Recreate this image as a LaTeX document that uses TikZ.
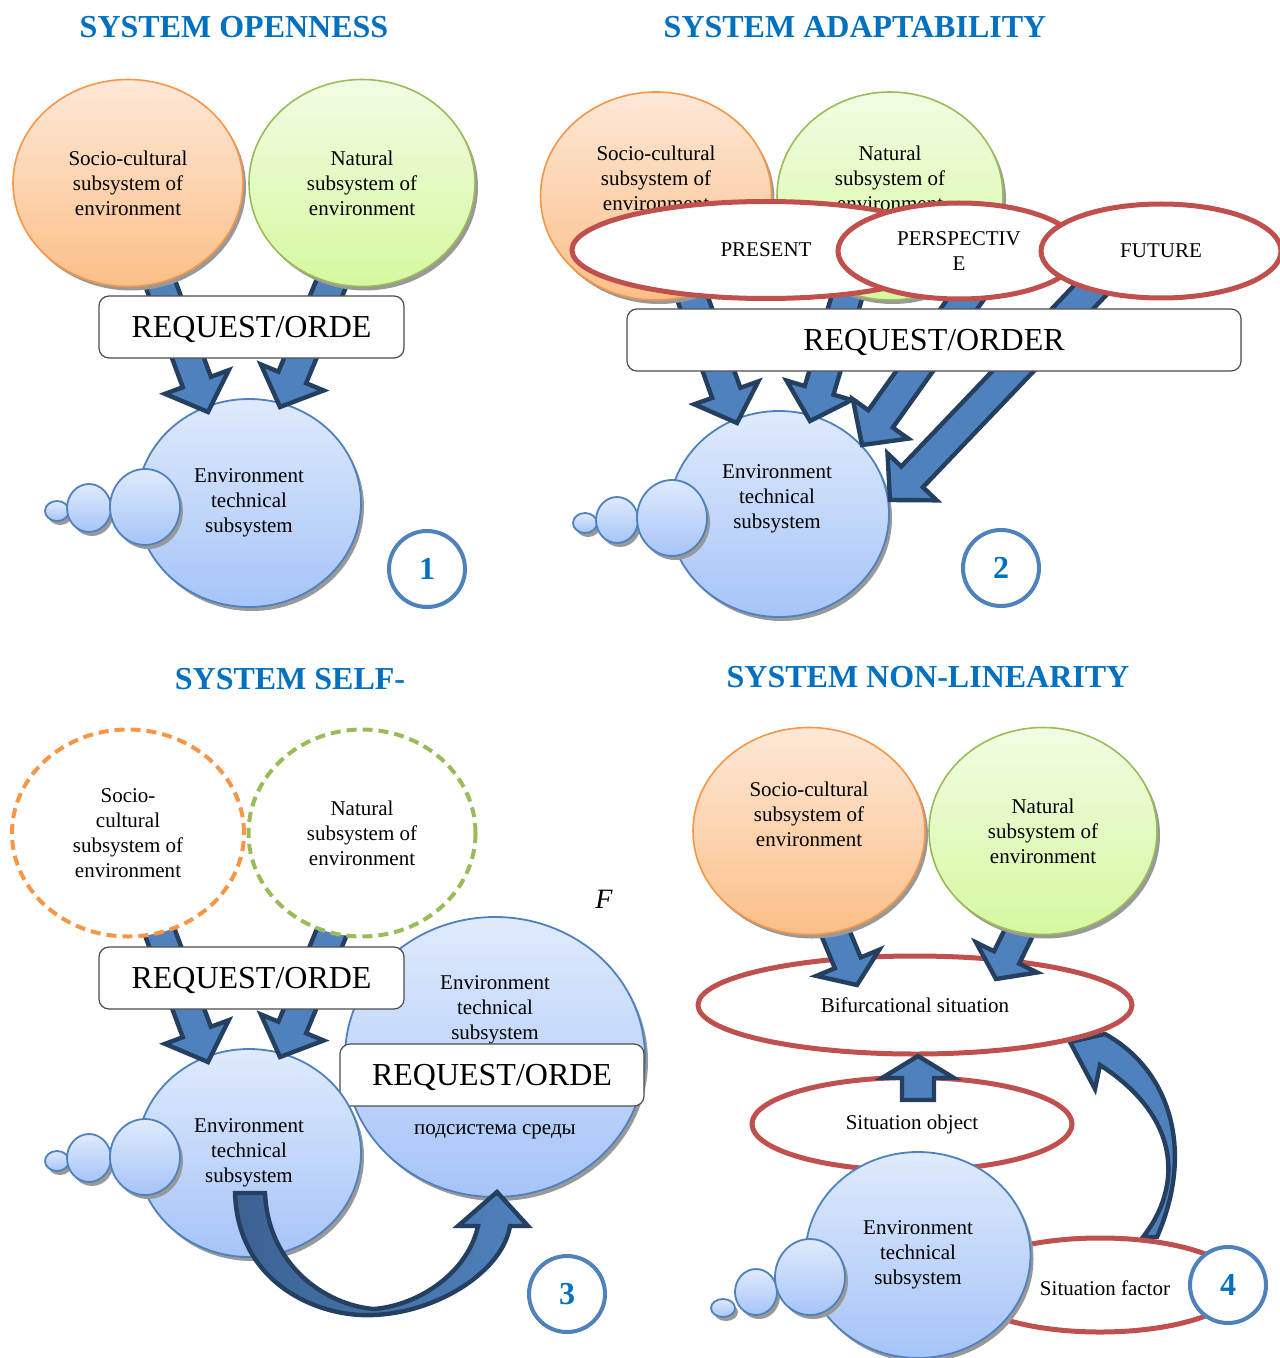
\documentclass[tikz,border=0pt]{standalone}
\usepackage{fontspec}
\setmainfont{Liberation Serif}
\usetikzlibrary{calc}
\usetikzlibrary{shapes}
\usetikzlibrary{shadows}

\definecolor{titleblue}{HTML}{0070C0}
\definecolor{sociodraw}{HTML}{F79646}
\definecolor{sociotop}{HTML}{FDE8D7}
\definecolor{sociobot}{HTML}{FBBF88}
\definecolor{natdraw}{HTML}{9BBB59}
\definecolor{nattop}{HTML}{F1FCE3}
\definecolor{natbot}{HTML}{D6F8A0}
\definecolor{envdraw}{HTML}{4F81BD}
\definecolor{envtop}{HTML}{DFEAFC}
\definecolor{envbot}{HTML}{A6C4F8}
\definecolor{sitred}{HTML}{C0504D}
\definecolor{arrowblue}{HTML}{4F81BD}
\definecolor{arrowshade}{HTML}{3C6292}
\definecolor{arrowdark}{HTML}{243F60}

\tikzset{
  every node/.style={font=\fontsize{10.5}{12.5}\selectfont, align=center},
  shade/.style={drop shadow={shadow xshift=1.5pt, shadow yshift=-2pt, fill=black!40, opacity=1}},
  socio/.style={ellipse, inner sep=0pt, draw=sociodraw, line width=0.8pt,
    top color=sociotop, bottom color=sociobot, shade},
  natural/.style={ellipse, inner sep=0pt, draw=natdraw, line width=0.8pt,
    top color=nattop, bottom color=natbot, shade},
  envsys/.style={ellipse, inner sep=0pt, draw=envdraw, line width=0.9pt,
    top color=envtop, bottom color=envbot, shade},
  bubble/.style={envsys},
  dashsocio/.style={ellipse, inner sep=0pt, draw=sociodraw, line width=2pt,
    dash pattern=on 5pt off 3pt, fill=white},
  dashnat/.style={ellipse, inner sep=0pt, draw=natdraw, line width=2pt,
    dash pattern=on 5pt off 3pt, fill=white},
  situation/.style={ellipse, inner sep=0pt, draw=sitred, line width=2.5pt, fill=white},
  request/.style={draw=black!70, line width=0.6pt, rounded corners=5pt, fill=white,
    inner sep=0pt, minimum height=31pt, text height=10.6pt, text depth=0pt,
    font=\fontsize{16}{18}\selectfont},
  numcirc/.style={circle, draw=envdraw, line width=2pt, fill=white, minimum size=38pt,
    inner sep=0pt, text=titleblue, font=\fontsize{16}{18}\selectfont\bfseries},
  title/.style={text=titleblue, font=\fontsize{16}{18}\selectfont\bfseries},
  blockarrow/.style={fill=arrowblue, draw=arrowdark, line width=2.2pt, line join=miter},
  curvearrow/.style={draw=arrowdark, line width=2.2pt, line join=miter},
}

% block arrow from tail #1 to tip #2
\newcommand{\bashaft}{7.5pt}
\newcommand{\bahead}{17pt}
\newcommand{\balen}{16pt}
\newcommand{\blockarrow}[2]{%
  \coordinate (bah) at ($(#2)!\balen!(#1)$);
  \draw[blockarrow] ($(#1)!\bashaft!90:(#2)$) -- ($(bah)!\bashaft!90:(#2)$)
    -- ($(bah)!\bahead!90:(#2)$) -- (#2) -- ($(bah)!\bahead!-90:(#2)$)
    -- ($(bah)!\bashaft!-90:(#2)$) -- ($(#1)!\bashaft!-90:(#2)$) -- cycle;}

\begin{document}
\begin{tikzpicture}[x=0.5pt,y=-0.5pt]
  \fill[white] (0,0) rectangle (1279,1358);
  \useasboundingbox (0,0) rectangle (1279,1358);

  % 1: openness
  \node[title] (t1) at (234,27) {SYSTEM OPENNESS};
  \node[envsys, minimum width=112pt, minimum height=104pt] (env1) at (249,503) {Environment\\technical\\subsystem};
  \node[bubble, minimum width=12pt, minimum height=10pt] (b1c) at (57,511) {};
  \node[bubble, minimum width=22pt, minimum height=24pt] (b1b) at (89,508) {};
  \node[bubble, minimum width=35pt, minimum height=38pt] (b1a) at (145,507) {};
  \coordinate (a1t) at (156,272); \coordinate (a1h) at (208,412);
  \coordinate (a2t) at (336,272); \coordinate (a2h) at (280,407);
  \blockarrow{a1t}{a1h}
  \blockarrow{a2t}{a2h}
  \node[socio, minimum width=115pt, minimum height=103.5pt] (so1) at (128,183) {Socio-cultural\\subsystem of\\environment};
  \node[natural, minimum width=113pt, minimum height=103.5pt] (na1) at (362,183) {Natural\\subsystem of\\environment};
  \node[request, minimum width=152.5pt] (rq1) at (251.5,327) {REQUEST/ORDE};
  \node[numcirc] (n1) at (427,569) {1};

  % 2: adaptability
  \node[title] (t2) at (855,27) {SYSTEM ADAPTABILITY};
  \node[envsys, minimum width=110pt, minimum height=103pt] (env2) at (779,514) {};
  \node (env2t) at (777,499) {Environment\\technical\\subsystem};
  \node[bubble, minimum width=12pt, minimum height=10pt] (b2c) at (585,523) {};
  \node[bubble, minimum width=21pt, minimum height=23pt] (b2b) at (617,520) {};
  \node[bubble, minimum width=35pt, minimum height=38pt] (b2a) at (672,518) {};
  \coordinate (a3t) at (686,280); \coordinate (a3h) at (737,423);
  \coordinate (a4t) at (852,280); \coordinate (a4h) at (810,421);
  \coordinate (a5t) at (978,282); \coordinate (a5h) at (862,445);
  \coordinate (a6t) at (1100,280); \coordinate (a6h) at (890,500);
  \blockarrow{a3t}{a3h}
  \blockarrow{a4t}{a4h}
  \blockarrow{a5t}{a5h}
  \blockarrow{a6t}{a6h}
  \node[socio, minimum width=115.5pt, minimum height=104pt] (so2) at (656,196) {};
  \node (so2t) at (656,178) {Socio-cultural\\subsystem of\\environment};
  \node[natural, minimum width=113pt, minimum height=104pt] (na2) at (890,196) {};
  \node (na2t) at (890,178) {Natural\\subsystem of\\environment};
  \node[situation, minimum width=194pt, minimum height=48.5pt] (pr2) at (766,250) {PRESENT};
  \node[situation, minimum width=121pt, minimum height=48pt] (pe2) at (959,251) {PERSPECTIV\\E};
  \node[situation, minimum width=120pt, minimum height=47pt] (fu2) at (1161,251) {FUTURE};
  \node[request, minimum width=307pt] (rq2) at (934,340) {REQUEST/ORDER};
  \node[numcirc] (n2) at (1001,568) {2};

  % 3: self-organisation
  \node[title] (t3) at (290,679) {SYSTEM SELF-};
  \node[envsys, minimum width=150pt, minimum height=140pt] (env3b) at (495,1057) {};
  \node (env3bt) at (495,1010) {Environment\\technical\\subsystem};
  \node (env3bru) at (495,1132) {подсистема среды};
  \node[request, minimum width=152pt] (rq3b) at (492,1075) {REQUEST/ORDE};
  \node[envsys, minimum width=112pt, minimum height=104pt] (env3) at (249,1153) {Environment\\technical\\subsystem};
  \node[bubble, minimum width=12pt, minimum height=10pt] (b3c) at (57,1161) {};
  \node[bubble, minimum width=22pt, minimum height=24pt] (b3b) at (89,1158) {};
  \node[bubble, minimum width=35pt, minimum height=38pt] (b3a) at (145,1157) {};
  \coordinate (a7t) at (156,922); \coordinate (a7h) at (208,1062);
  \coordinate (a8t) at (336,922); \coordinate (a8h) at (280,1057);
  \blockarrow{a7t}{a7h}
  \blockarrow{a8t}{a8h}
  \node[dashsocio, minimum width=116pt, minimum height=103.5pt] (so3) at (128,833) {Socio-\\cultural\\subsystem of\\environment};
  \node[dashnat, minimum width=113.5pt, minimum height=103.5pt] (na3) at (362,833) {Natural\\subsystem of\\environment};
  \node[request, minimum width=152.5pt] (rq3) at (251.5,978) {REQUEST/ORDE};
  \coordinate (c3t) at (250,1193);
  \coordinate (c3h) at (497,1192);
  \draw[curvearrow, left color=arrowshade, right color=arrowblue]
    ($(c3t)+(-15,0)$) .. controls (238,1285) and (320,1318) .. (374,1315)
    .. controls (440,1312) and (503,1270) .. (510,1226) -- (528,1226) -- (c3h)
    -- (458,1226) -- (478,1226) .. controls (468,1272) and (420,1305) .. (374,1309)
    .. controls (325,1305) and (268,1265) .. ($(c3t)+(15,0)$) -- cycle;
  \node[font=\fontsize{14}{16}\selectfont\itshape] (f3) at (604,899) {F};
  \node[numcirc] (n3) at (567,1294) {3};

  % 4: non-linearity
  \node[title] (t4) at (928,677) {SYSTEM NON-LINEARITY};
  \coordinate (c4t) at (1150,1237);
  \coordinate (c4h) at (1070,1042);
  \draw[curvearrow, fill=arrowblue]
    ($(c4t)+(-7,0)$) .. controls (1180,1190) and (1185,1120) .. (1100,1065)
    -- (1095,1089) -- (c4h) -- (1105,1034)
    .. controls (1170,1070) and (1195,1150) .. ($(c4t)+(7,0)$) -- cycle;
  \node[situation, minimum width=217pt, minimum height=49pt] (bif) at (915,1005) {Bifurcational situation};
  \begin{scope}
    \renewcommand{\balen}{12pt}
    \renewcommand{\bashaft}{7pt}
    \coordinate (a9t) at (830,920); \coordinate (a9h) at (857,985);
    \coordinate (a10t) at (1025,920); \coordinate (a10h) at (996,979);
    \blockarrow{a9t}{a9h}
    \blockarrow{a10t}{a10h}
  \end{scope}
  \node[socio, minimum width=116pt, minimum height=103.5pt] (so4) at (809,831) {};
  \node (so4t) at (809,814) {Socio-cultural\\subsystem of\\environment};
  \node[natural, minimum width=114pt, minimum height=103.5pt] (na4) at (1043,831) {Natural\\subsystem of\\environment};
  \node[situation, minimum width=160pt, minimum height=46.5pt] (sob) at (912,1124) {Situation object};
  \begin{scope}
    \renewcommand{\balen}{11pt}
    \renewcommand{\bashaft}{8pt}
    \renewcommand{\bahead}{18pt}
    \coordinate (a11t) at (918,1100); \coordinate (a11h) at (918,1056);
    \blockarrow{a11t}{a11h}
  \end{scope}
  \node[situation, minimum width=140pt, minimum height=47pt] (sfa) at (1100,1285) {};
  \node (sfat) at (1105,1288) {Situation factor};
  \node[envsys, minimum width=112.5pt, minimum height=103pt] (env4) at (918,1255) {Environment\\technical\\subsystem};
  \node[bubble, minimum width=12pt, minimum height=9pt] (b4c) at (723,1308) {};
  \node[bubble, minimum width=21pt, minimum height=23pt] (b4b) at (756,1292) {};
  \node[bubble, minimum width=35pt, minimum height=38pt] (b4a) at (810,1277) {};
  \node[numcirc] (n4) at (1228,1285) {4};
\end{tikzpicture}
\end{document}
